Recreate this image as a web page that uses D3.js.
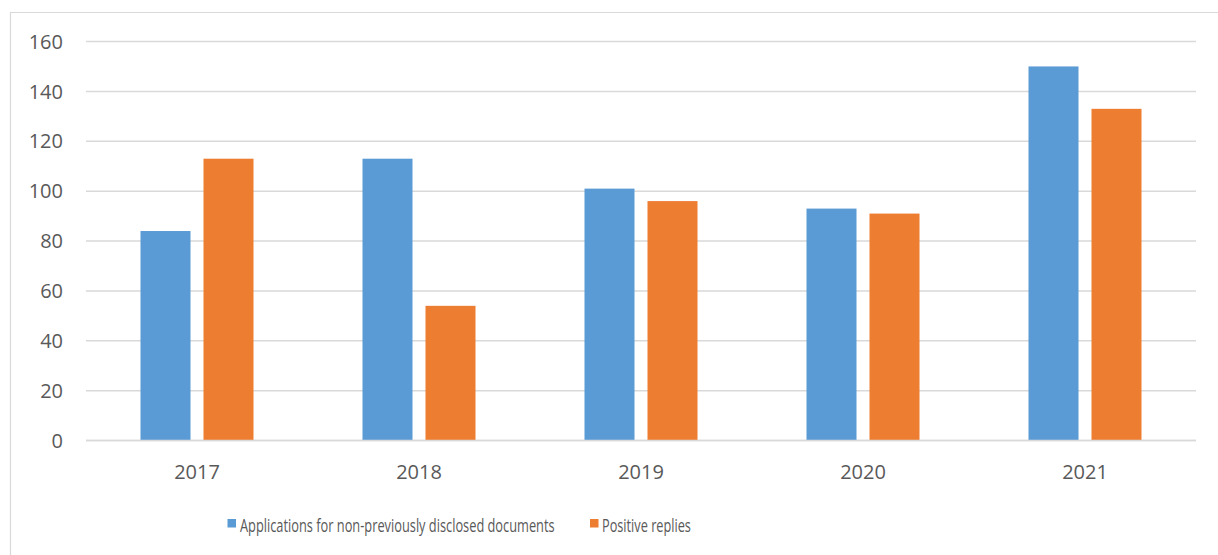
<!DOCTYPE html>
<html>
<head>
<meta charset="utf-8">
<script src="https://cdn.jsdelivr.net/npm/d3@7"></script>
<style>
  html, body { margin: 0; padding: 0; background: #fff; }
  svg { display: block; }
  text { font-family: "Open Sans", "Liberation Sans", sans-serif; fill: #595959; }
</style>
</head>
<body>
<svg id="chart" width="1218" height="555"></svg>
<script>
const categories = ["2017", "2018", "2019", "2020", "2021"];
const seriesNames = ["Applications for non-previously disclosed documents", "Positive replies"];
const applications = [84, 113, 101, 93, 150];
const positiveReplies = [113, 54, 96, 91, 133];
const yTicks = [0, 20, 40, 60, 80, 100, 120, 140, 160];
const colors = ["#5b9bd5", "#ed7d31"];

const svg = d3.select("#chart");
const W = 1218, H = 555;
const plot = { left: 86, right: 1196, top: 41.5, bottom: 440.5 };

// outer chart border (left and top visible)
svg.append("path")
  .attr("d", `M10.5,${H} L10.5,12.5 L${W},12.5`)
  .attr("fill", "none").attr("stroke", "#d9d9d9").attr("stroke-width", 1.2);

const x = d3.scaleBand().domain(categories).range([plot.left, plot.right]);
const y = d3.scaleLinear().domain([0, 160]).range([plot.bottom, plot.top]);

// gridlines
svg.append("g").selectAll("line").data(yTicks).join("line")
  .attr("x1", plot.left).attr("x2", plot.right)
  .attr("y1", d => y(d)).attr("y2", d => y(d))
  .attr("stroke", "#d9d9d9").attr("stroke-width", 1.5);

// y labels
svg.append("g").selectAll("text").data(yTicks).join("text")
  .attr("x", 63).attr("y", d => y(d))
  .attr("dy", "0.36em").attr("text-anchor", "end")
  .attr("font-size", 20).text(d => d);

// bars
const barW = x.bandwidth() * 50 / 222;
const innerGap = x.bandwidth() * 13 / 222;
const series = [applications, positiveReplies];
series.forEach((vals, si) => {
  svg.append("g").selectAll("rect").data(vals).join("rect")
    .attr("x", (d, i) => {
      const c = x(categories[i]) + x.bandwidth() / 2;
      return si === 0 ? c - innerGap / 2 - barW : c + innerGap / 2;
    })
    .attr("y", d => y(d))
    .attr("width", barW)
    .attr("height", d => y(0) - y(d))
    .attr("fill", colors[si]);
});

// baseline on top
svg.append("line")
  .attr("x1", plot.left).attr("x2", plot.right)
  .attr("y1", y(0)).attr("y2", y(0))
  .attr("stroke", "#d9d9d9").attr("stroke-width", 1.5);

// x labels
svg.append("g").selectAll("text").data(categories).join("text")
  .attr("x", d => x(d) + x.bandwidth() / 2).attr("y", 478.5)
  .attr("text-anchor", "middle").attr("font-size", 20).text(d => d);

// legend
const legend = [
  { name: seriesNames[0], color: colors[0], x: 227.5, tx: 240, len: 315 },
  { name: seriesNames[1], color: colors[1], x: 590, tx: 602, len: 89 }
];
const lg = svg.append("g");
legend.forEach(l => {
  lg.append("rect").attr("x", l.x).attr("y", 519).attr("width", 8.5).attr("height", 8.5).attr("fill", l.color);
  const g = lg.append("g").attr("transform", `translate(${l.tx},531.7)`);
  const t = g.append("text").attr("x", 0).attr("y", 0).attr("font-size", 19).text(l.name);
  const natural = t.node().getComputedTextLength();
  const sx = Math.min(1, l.len / natural);
  t.attr("transform", `scale(${sx},1)`);
});
</script>
</body>
</html>
